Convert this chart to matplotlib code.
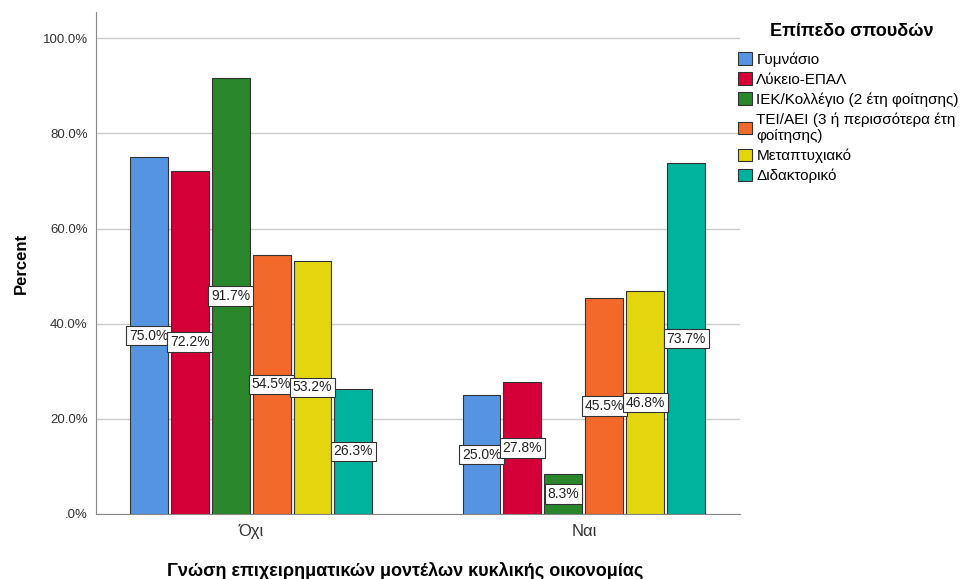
import numpy as np
import matplotlib.pyplot as plt
from matplotlib.ticker import FuncFormatter

# data
groups = ['Όχι', 'Ναι']
levels = ['Γυμνάσιο', 'Λύκειο-ΕΠΑΛ', 'ΙΕΚ/Κολλέγιο (2 έτη φοίτησης)',
          'ΤΕΙ/ΑΕΙ (3 ή περισσότερα έτη\nφοίτησης)', 'Μεταπτυχιακό', 'Διδακτορικό']
oxi = [75.0, 72.2, 91.7, 54.5, 53.2, 26.3]
nai = [25.0, 27.8, 8.3, 45.5, 46.8, 73.7]
colors = ['#5594E0', '#D50037', '#29862B', '#F2692B', '#E3D60F', '#00B39C']

plt.rcParams['font.family'] = ['Liberation Sans', 'DejaVu Sans']

fig = plt.figure(figsize=(9.63, 5.79), dpi=100)
ax = fig.add_axes([0.0997, 0.1123, 0.6683, 0.8667])

x = np.arange(len(groups))
step = 0.123
width = 0.114
vals = np.array([oxi, nai])
for i in range(len(levels)):
    xs = x + (i - 2.5) * step
    ax.bar(xs, vals[:, i], width, color=colors[i], edgecolor='#333333',
           linewidth=0.8, label=levels[i], zorder=3)
    for xx, v in zip(xs, vals[:, i]):
        ax.text(xx, v / 2, '%.1f%%' % v, ha='center', va='center', fontsize=10,
                color='#222222', zorder=4,
                bbox=dict(boxstyle='square,pad=0.2', fc='white', ec='#333333', lw=0.8))

ax.set_xlim(-0.466, 1.468)
ax.set_ylim(0, 105.5)
ax.set_yticks([0, 20, 40, 60, 80, 100])
ax.yaxis.set_major_formatter(FuncFormatter(lambda v, p: '.0%' if v == 0 else '%.1f%%' % v))
ax.set_xticks(x)
ax.set_xticklabels(groups, fontsize=12)
ax.tick_params(axis='y', labelsize=9.5, colors='#333333', length=0, pad=6)
ax.tick_params(axis='x', length=0, pad=7, colors='#333333')
ax.grid(axis='y', color='#cccccc', linewidth=1, zorder=0)
for s in ['top', 'right']:
    ax.spines[s].set_visible(False)
for s in ['left', 'bottom']:
    ax.spines[s].set_color('#888888')

ax.set_ylabel('Percent', fontsize=12, fontweight='bold', labelpad=10)
fig.text(405 / 963, 1 - 571 / 579, 'Γνώση επιχειρηματικών μοντέλων κυκλικής οικονομίας',
         fontsize=13, fontweight='bold', ha='center', va='center')

# legend title drawn separately
fig.text(852 / 963, 1 - 32 / 579, 'Επίπεδο σπουδών', fontsize=13, fontweight='bold',
         ha='center', va='center')
leg = fig.legend(loc='upper left', bbox_to_anchor=(738 / 963, 1 - 52 / 579), frameon=False,
                 fontsize=11, handlelength=0.9,
                 handleheight=0.9, handletextpad=0.3, labelspacing=0.36,
                 borderaxespad=0, borderpad=0)
for h in leg.legend_handles:
    h.set_edgecolor('#333333')

fig.savefig('out.png', dpi=100)
